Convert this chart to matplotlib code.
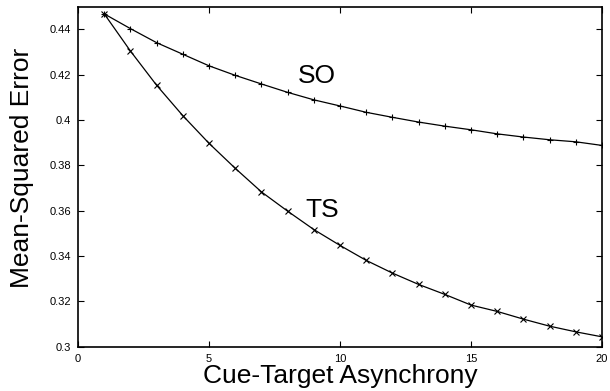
import matplotlib
matplotlib.use("Agg")
import matplotlib.pyplot as plt
import numpy as np

plt.rcParams['font.family'] = ['Liberation Sans', 'DejaVu Sans']

asincronia = np.arange(1, 21)
erro_so = [0.4468, 0.4403, 0.4341, 0.4290, 0.4239, 0.4197, 0.4159, 0.4122, 0.4089, 0.4062,
           0.4034, 0.4012, 0.3991, 0.3973, 0.3957, 0.3939, 0.3925, 0.3913, 0.3904, 0.3888]
erro_ts = [0.4468, 0.4304, 0.4153, 0.4019, 0.3897, 0.3787, 0.3683, 0.3598, 0.3517, 0.3447,
           0.3381, 0.3325, 0.3275, 0.3231, 0.3184, 0.3156, 0.3122, 0.3091, 0.3066, 0.3044]
x_ticks = [0, 5, 10, 15, 20]
y_ticks = [0.3, 0.32, 0.34, 0.36, 0.38, 0.4, 0.42, 0.44]

fig = plt.figure(figsize=(6.1, 3.91), dpi=100)
ax = fig.add_axes([0.128, 0.113, 0.859, 0.870])

ax.plot(asincronia, erro_so, color='black', lw=0.9, marker='+', ms=5, mew=0.8)
ax.plot(asincronia, erro_ts, color='black', lw=0.9, marker='x', ms=4.5, mew=0.8)

ax.text(9.1, 0.4195, "SO", fontsize=19, ha='center', va='center')
ax.text(9.3, 0.3605, "TS", fontsize=19, ha='center', va='center')

ax.set_xlim(0, 20)
ax.set_ylim(0.3, 0.45)
ax.set_xticks(x_ticks)
ax.set_xticklabels([str(t) for t in x_ticks])
ax.set_yticks(y_ticks)
ax.set_yticklabels(["0.3", "0.32", "0.34", "0.36", "0.38", "0.4", "0.42", "0.44"])
ax.tick_params(direction='in', top=True, right=True, labelsize=8, length=4, width=0.8, pad=5)
for s in ax.spines.values():
    s.set_linewidth(1.2)

ax.set_xlabel("Cue-Target Asynchrony", fontsize=19, labelpad=0)
ax.set_ylabel("Mean-Squared Error", fontsize=19)
ax.yaxis.set_label_coords(-0.085, 0.526)

fig.savefig("out.png", dpi=100)
